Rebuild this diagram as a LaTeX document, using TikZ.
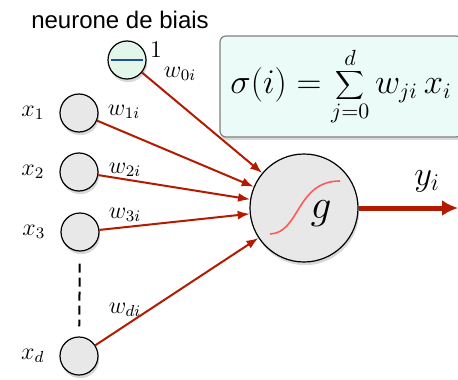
\documentclass[tikz,border=0pt]{standalone}
\usepackage{fontspec}
\setsansfont{Liberation Sans}
\usetikzlibrary{positioning, arrows.meta, shadows}
\definecolor{linkred}{HTML}{B31B00}
\definecolor{nodegray}{HTML}{E8E8E8}
\definecolor{biasgreen}{HTML}{E2F7EA}
\definecolor{boxcyan}{HTML}{EBFBF7}
\definecolor{biasblue}{HTML}{1F4E9C}
\definecolor{sigred}{HTML}{FF5A5A}

\begin{document}
\begin{tikzpicture}[
        x=0.5pt, y=-0.5pt,
        inneuron/.style={circle, draw=black, line width=0.6pt, fill=nodegray, minimum size=19pt, inner sep=0pt, drop shadow={opacity=0.3, shadow xshift=0.6pt, shadow yshift=-1.6pt}},
        biasneuron/.style={inneuron, fill=biasgreen},
        outneuron/.style={inneuron, minimum size=54pt},
        sumbox/.style={rectangle, rounded corners=3pt, draw=gray, line width=0.6pt, fill=boxcyan, minimum width=121pt, minimum height=50.5pt, drop shadow={opacity=0.3, shadow xshift=0.6pt, shadow yshift=-1.6pt}},
        lbl/.style={font=\large},
        link/.style={-{Latex[length=6pt, width=4.5pt]}, line width=1pt, draw=linkred}
    ]
        \useasboundingbox (0,0) rectangle (458,379);

        % Nodes
        \node[font=\sffamily\large] (title) at (120,20) {neurone de biais};
        \node[biasneuron] (b0) at (127,60) {};
        \node[inneuron] (x1) at (79,113) {};
        \node[inneuron] (x2) at (79,172) {};
        \node[inneuron] (x3) at (80,232) {};
        \node[inneuron] (xd) at (79,356) {};
        \node[outneuron] (g) at (304,208) {};
        \node[sumbox] (sum) at (341,86.5) {\fontsize{16}{19}\selectfont$\displaystyle\sigma(i)=\sum_{j=0}^{d} w_{ji}\, x_i$};
        \coordinate (out) at (458,208);

        \node[lbl, left=4pt of x1] (lx1) {$x_1$};
        \node[lbl, left=4pt of x2] (lx2) {$x_2$};
        \node[lbl, left=4pt of x3] (lx3) {$x_3$};
        \node[lbl, left=4pt of xd] (lxd) {$x_d$};
        \node[lbl] (one) at (156,50) {$1$};
        \node[lbl] (w0) at (180,74) {$w_{0i}$};
        \node[lbl] (w1) at (124,112) {$w_{1i}$};
        \node[lbl] (w2) at (125,170) {$w_{2i}$};
        \node[lbl] (w3) at (125,215) {$w_{3i}$};
        \node[lbl] (wd) at (125,310) {$w_{di}$};
        \node[font=\huge] (gl) at (321,214) {$g$};
        \node[font=\LARGE] (yl) at (427,181) {$y_i$};

        % Paths
        \draw[biasblue, line width=1pt] ([xshift=-8pt]b0.center) -- ([xshift=8pt]b0.center);
        \draw[sigred, line width=0.8pt] (270,234) .. controls (300,233) and (296,181) .. (340,181);
        \draw[link] (b0) -- (g);
        \draw[link] (x1) -- (g);
        \draw[link] (x2) -- (g);
        \draw[link] (x3) -- (g);
        \draw[link] (xd) -- (g);
        \draw[dashed, dash pattern=on 4.5pt off 2.5pt, line width=1pt, shorten <=6pt, shorten >=5pt] (x3) -- (xd);
        \draw[linkred, line width=2.5pt, -{Latex[length=8pt, width=8pt]}] (g) -- (out);
    \end{tikzpicture}
\end{document}
